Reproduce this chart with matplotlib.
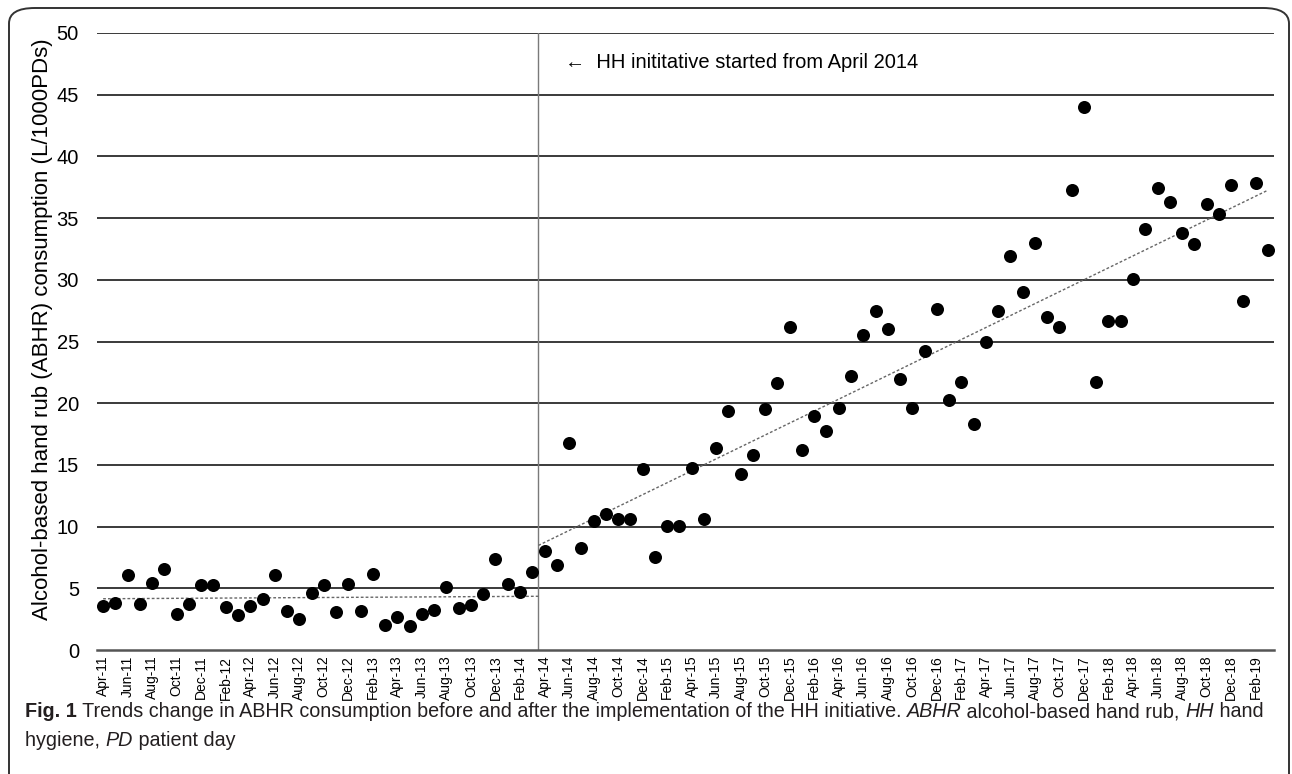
import numpy as np
import matplotlib
matplotlib.use("Agg")
import matplotlib.pyplot as plt
from matplotlib.patches import FancyBboxPatch

# ---------------- data ----------------
months = ["Jan", "Feb", "Mar", "Apr", "May", "Jun", "Jul", "Aug", "Sep", "Oct", "Nov", "Dec"]
start_month, start_year, n_months = 3, 11, 96  # Apr-11 .. Mar-19
month_labels = [f"{months[(start_month + i) % 12]}-{start_year + (start_month + i) // 12:02d}"
                for i in range(n_months)]

abhr_pre = [3.6, 3.8, 6.1, 3.75, 5.4, 6.55, 2.9, 3.7, 5.25, 5.3, 3.5, 2.8,
            3.55, 4.15, 6.1, 3.2, 2.55, 4.6, 5.25, 3.05, 5.35, 3.15, 6.15, 2.05,
            2.65, 1.97, 2.9, 3.25, 5.1, 3.4, 3.62, 4.56, 7.4, 5.35, 4.73, 6.33]
abhr_post = [8.0, 6.9, 16.8, 8.3, 10.45, 11.05, 10.65, 10.6, 14.7, 7.55, 10.05, 10.05,
             14.77, 10.6, 16.37, 19.37, 14.3, 15.8, 19.5, 21.66, 26.2, 16.18, 19.0, 17.75,
             19.6, 22.2, 25.5, 27.5, 26.0, 22.0, 19.6, 24.2, 27.6, 20.26, 21.7, 18.3,
             24.93, 27.5, 31.9, 29.0, 32.95, 27.0, 26.2, 37.3, 44.0, 21.74, 26.63, 26.69,
             30.1, 34.1, 37.47, 36.28, 33.8, 32.93, 36.14, 35.36, 37.68, 28.26, 37.84, 32.4]

annotation = "\u2190  HH inititative started from April 2014"
ylabel = "Alcohol-based hand rub (ABHR) consumption (L/1000PDs)"

# ---------------- figure ----------------
W, H = 1292, 774
fig = plt.figure(figsize=(W / 100, H / 100), dpi=100)
fig.patch.set_facecolor("white")

# rounded frame
frame = FancyBboxPatch((9 / W, -0.05), (1289 - 9) / W, (H - 8) / H + 0.05,
                       boxstyle="round,pad=0,rounding_size=0.02",
                       transform=fig.transFigure, facecolor="none",
                       edgecolor="#333333", linewidth=1.4, clip_on=False)
fig.patches.append(frame)

ax = fig.add_axes([97 / W, 1 - 650 / H, (1274 - 97) / W, (650 - 33) / H])
FONT = "Liberation Sans"

values = np.array(abhr_pre + abhr_post)
x = np.arange(len(values))
n_pre = len(abhr_pre)
boundary = n_pre - 0.5

# gridlines
for v in np.arange(5, 51, 5):
    ax.axhline(v, color="#2b2b2b", linewidth=1.3, zorder=1)

# intervention line
ax.plot([boundary, boundary], [0, 50], color="#7a7a7a", linewidth=1.0, zorder=2)

# points
ax.scatter(x, values, s=88, color="black", zorder=4, linewidths=0)

# trend lines (linear fits of each segment)
xp = x[:n_pre]
cp = np.polyfit(xp, values[:n_pre], 1)
xs = np.array([0, boundary])
ax.plot(xs, np.polyval(cp, xs), linestyle=(0, (2, 1.5)), color="#666666", linewidth=1.0, zorder=3)
xq = x[n_pre:]
cq = np.polyfit(xq, values[n_pre:], 1)
xs2 = np.array([boundary, x[-1]])
ax.plot(xs2, np.polyval(cq, xs2), linestyle=(0, (2, 1.5)), color="#666666", linewidth=1.0, zorder=3)

ax.set_xlim(-0.5, len(values) - 0.5)
ax.set_ylim(0, 50)
for s in ["top", "right", "left"]:
    ax.spines[s].set_visible(False)
ax.spines["bottom"].set_color("#555555")
ax.spines["bottom"].set_linewidth(1.8)

ax.set_yticks(np.arange(0, 51, 5))
ax.set_yticklabels([str(v) for v in range(0, 51, 5)], fontsize=14.5, family=FONT)
ax.tick_params(axis="y", length=0, pad=13)
ax.set_xticks(x[::2])
ax.set_xticklabels(month_labels[::2], rotation=90, fontsize=10, family=FONT)
ax.tick_params(axis="x", length=0, pad=4)

ax.set_ylabel(ylabel, fontsize=16, family=FONT)
ax.yaxis.set_label_coords(-0.037, 0.52)

ax.text(37.7, 47.6, annotation, fontsize=14.5, family=FONT, va="center", ha="left")

# caption
fig.canvas.draw()
r = fig.canvas.get_renderer()
cap_fs = 14.2
lines = [
    [("Fig. 1", "bold", "normal"),
     (" Trends change in ABHR consumption before and after the implementation of the HH initiative. ", "normal", "normal"),
     ("ABHR", "normal", "italic"),
     (" alcohol-based hand rub, ", "normal", "normal"),
     ("HH", "normal", "italic"),
     (" hand", "normal", "normal")],
    [("hygiene, ", "normal", "normal"),
     ("PD", "normal", "italic"),
     (" patient day", "normal", "normal")],
]
ybase = [1 - 717 / H, 1 - 746 / H]
for line, yb in zip(lines, ybase):
    xx = 25 / W
    for txt, wt, st in line:
        t = fig.text(xx, yb, txt, fontsize=cap_fs, fontweight=wt, style=st,
                     family=FONT, va="baseline", ha="left", color="#231f20")
        bb = t.get_window_extent(r)
        xx += bb.width / W

fig.savefig("out.png", dpi=100, facecolor="white")
